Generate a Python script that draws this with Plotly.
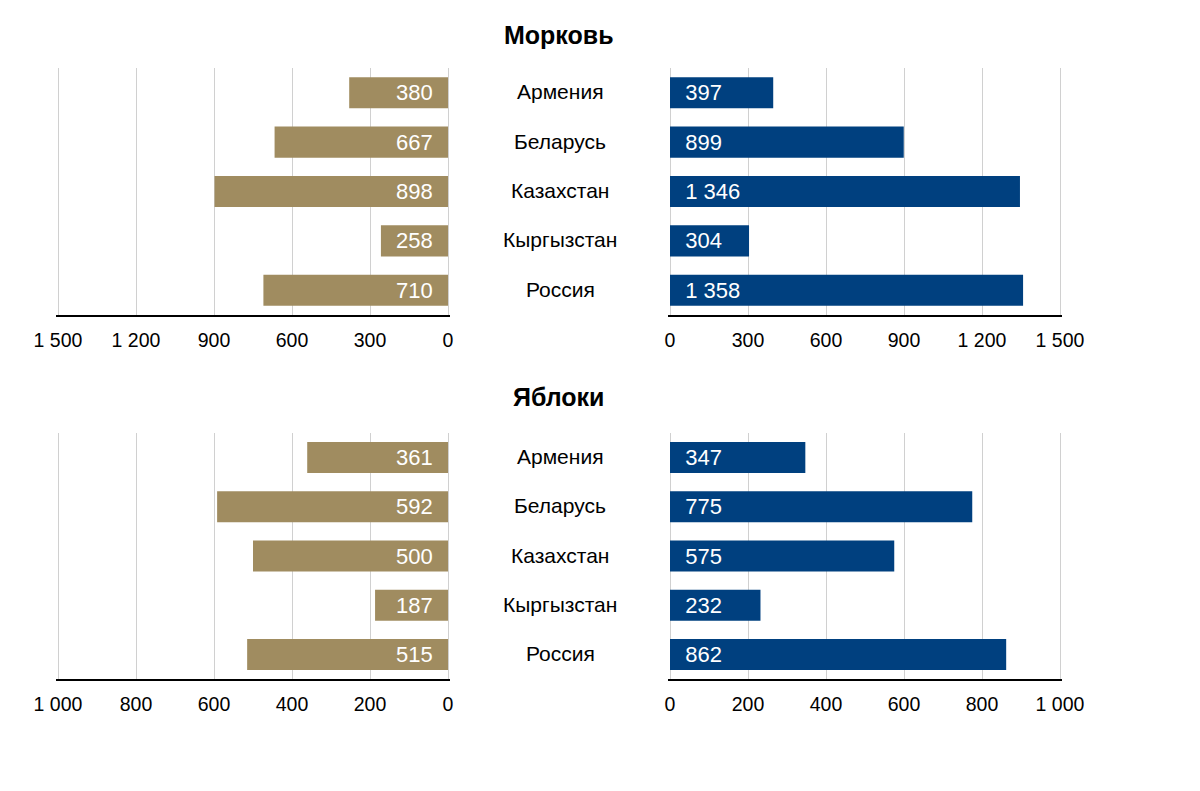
import plotly.graph_objects as go

countries = ["Армения", "Беларусь", "Казахстан", "Кыргызстан", "Россия"]
titles = ["Морковь", "Яблоки"]
carrot_left = [380, 667, 898, 258, 710]
carrot_right = [397, 899, 1346, 304, 1358]
apple_left = [361, 592, 500, 187, 515]
apple_right = [347, 775, 575, 232, 862]
carrot_ticks = [0, 300, 600, 900, 1200, 1500]
apple_ticks = [0, 200, 400, 600, 800, 1000]

GOLD = "#a08c60"
BLUE = "#00407f"
FONT = "Liberation Sans, Arial, sans-serif"
NB = "\u00a0"

W, H = 1200, 791
EXT = 1.6  # px of extra axis on each end so edge gridlines are drawn

def fmt(v):
    return f"{v:,}".replace(",", " ")

def px_x(a, b):
    return [(a - EXT) / W, (b + EXT) / W]

def px_y(top, bottom):
    return [1 - bottom / H, 1 - top / H]

fig = go.Figure()

panels = [
    (carrot_left, GOLD, "x", "y", True),
    (carrot_right, BLUE, "x2", "y2", False),
    (apple_left, GOLD, "x3", "y3", True),
    (apple_right, BLUE, "x4", "y4", False),
]

for vals, col, xa, ya, left in panels:
    texts = [(fmt(v) + NB * 2) if left else (NB * 2 + fmt(v)) for v in vals]
    fig.add_trace(go.Bar(
        x=vals, y=countries, orientation="h", xaxis=xa, yaxis=ya,
        marker=dict(color=col, line=dict(width=0)), width=0.63,
        text=texts, textposition="inside", insidetextanchor="start",
        textfont=dict(color="white", size=22, family=FONT),
        constraintext="none", cliponaxis=False, hoverinfo="skip", showlegend=False,
    ))

top_y = px_y(68, 315)
bot_y = px_y(433, 679)
left_x = px_x(58, 448)
right_x = px_x(670, 1060)

def xaxis(domain, anchor, ticks, reverse):
    e = EXT * ticks[-1] / 390.0
    hi = ticks[-1] + e
    lo = -e
    rng = [hi, lo] if reverse else [lo, hi]
    return dict(domain=domain, anchor=anchor, range=rng, tickvals=ticks,
                separatethousands=True, showgrid=True, gridcolor="#d0d0d0", gridwidth=1,
                zeroline=False, showline=True, linecolor="black", linewidth=2,
                ticks="", ticklabelstandoff=7, automargin=False,
                tickfont=dict(size=19.5, color="black", family=FONT), fixedrange=True)

def yaxis(domain, anchor):
    return dict(domain=domain, anchor=anchor, autorange="reversed", showticklabels=False,
                showgrid=False, zeroline=False, showline=False, ticks="", automargin=False,
                categoryorder="array", categoryarray=countries, fixedrange=True)

fig.update_layout(
    width=W, height=H, margin=dict(l=0, r=0, t=0, b=0, pad=0, autoexpand=False),
    paper_bgcolor="white", plot_bgcolor="white",
    separators=", ",
    font=dict(family=FONT, color="black"),
    xaxis=xaxis(left_x, "y", carrot_ticks, True),
    yaxis=yaxis(top_y, "x"),
    xaxis2=xaxis(right_x, "y2", carrot_ticks, False),
    yaxis2=yaxis(top_y, "x2"),
    xaxis3=xaxis(left_x, "y3", apple_ticks, True),
    yaxis3=yaxis(bot_y, "x3"),
    xaxis4=xaxis(right_x, "y4", apple_ticks, False),
    yaxis4=yaxis(bot_y, "x4"),
)

annotations = []
for ya in ["y", "y3"]:
    for c in countries:
        annotations.append(dict(x=560 / W, xref="paper", y=c, yref=ya, text=c,
                                showarrow=False, xanchor="center", yanchor="middle",
                                yshift=1, font=dict(size=21, color="black", family=FONT)))
for t, ypx in zip(titles, [35, 397]):
    annotations.append(dict(x=559 / W, xref="paper", y=1 - ypx / H, yref="paper", text=f"<b>{t}</b>",
                            showarrow=False, xanchor="center", yanchor="middle",
                            font=dict(size=25, color="black", family=FONT)))
fig.update_layout(annotations=annotations)

fig.write_html("out.html", config={"displayModeBar": False},
               post_script="document.body.style.margin='0';")
